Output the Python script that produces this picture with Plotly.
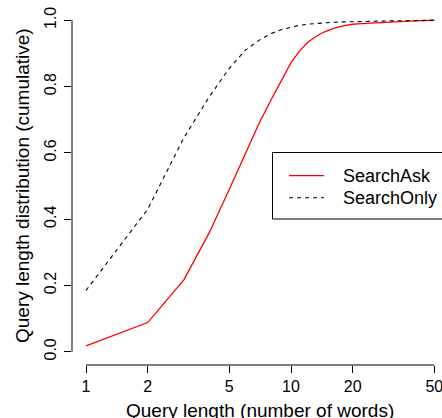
import plotly.graph_objects as go

# ---- data ----
query_length = [1, 2, 3, 4, 5, 6, 7, 8, 9, 10, 11, 12, 13, 14, 15, 16, 18, 20, 22, 25, 30, 40, 50]
search_ask = [0.018, 0.088, 0.217, 0.36, 0.49, 0.60, 0.69, 0.76, 0.82, 0.872, 0.907, 0.932, 0.948,
              0.960, 0.968, 0.975, 0.983, 0.988, 0.990, 0.992, 0.995, 0.998, 1.0]
search_only = [0.185, 0.43, 0.645, 0.77, 0.855, 0.91, 0.94, 0.96, 0.972, 0.98, 0.985, 0.988, 0.990,
               0.992, 0.993, 0.994, 0.995, 0.996, 0.997, 0.997, 0.998, 0.999, 1.0]
x_ticks = [1, 2, 5, 10, 20, 50]
y_ticks = [0.0, 0.2, 0.4, 0.6, 0.8, 1.0]
series_names = ["SearchAsk", "SearchOnly"]

FONT = "Liberation Sans, Arial, Helvetica, sans-serif"
W, H = 442, 418
ML, MR, MT, MB = 72, 0, 7, 53
PW, PH = W - ML - MR, H - MT - MB


def px_x(p):
    return (p - ML) / PW


def px_y(p):
    return (H - MB - p) / PH


fig = go.Figure()
fig.add_trace(go.Scatter(x=query_length, y=search_ask, mode="lines", name=series_names[0],
                         line=dict(color="#ff0000", width=1.3), showlegend=False))
fig.add_trace(go.Scatter(x=query_length, y=search_only, mode="lines", name=series_names[1],
                         line=dict(color="#000000", width=1.1, dash="4px,4px"), showlegend=False))

shapes = []
# R-style detached axis lines
shapes.append(dict(type="line", xref="x", yref="paper", x0=x_ticks[0], x1=x_ticks[-1], y0=0, y1=0,
                   line=dict(color="black", width=1)))
shapes.append(dict(type="line", xref="paper", yref="y", x0=0, x1=0, y0=y_ticks[0], y1=y_ticks[-1],
                   line=dict(color="black", width=1)))
# legend box
shapes.append(dict(type="rect", xref="paper", yref="paper", x0=px_x(272.5), x1=px_x(470),
                   y0=px_y(219), y1=px_y(152.5), line=dict(color="black", width=1), fillcolor="white",
                   layer="above"))
shapes.append(dict(type="line", xref="paper", yref="paper", x0=px_x(289), x1=px_x(324),
                   y0=px_y(175.7), y1=px_y(175.7), line=dict(color="#ff0000", width=1.3)))
shapes.append(dict(type="line", xref="paper", yref="paper", x0=px_x(289), x1=px_x(324),
                   y0=px_y(197.7), y1=px_y(197.7), line=dict(color="black", width=1.1, dash="4px,4px")))

annotations = [
    dict(text=series_names[0], xref="paper", yref="paper", x=px_x(341), y=px_y(175.5),
         xanchor="left", yanchor="middle", showarrow=False, font=dict(family=FONT, size=18, color="black")),
    dict(text=series_names[1], xref="paper", yref="paper", x=px_x(341), y=px_y(197.5),
         xanchor="left", yanchor="middle", showarrow=False, font=dict(family=FONT, size=18, color="black")),
    dict(text="Query length (number of words)", xref="paper", yref="paper", x=px_x(260), y=px_y(410),
         xanchor="center", yanchor="middle", showarrow=False, font=dict(family=FONT, size=19, color="black")),
    dict(text="Query length distribution (cumulative)", xref="paper", yref="paper", x=px_x(22),
         y=px_y(186), xanchor="center", yanchor="middle", textangle=-90, showarrow=False,
         font=dict(family=FONT, size=19, color="black")),
]

fig.update_layout(
    width=W, height=H,
    margin=dict(l=ML, r=MR, t=MT, b=MB, pad=0),
    paper_bgcolor="white", plot_bgcolor="white",
    shapes=shapes, annotations=annotations,
    xaxis=dict(type="log", range=[-14 / 205, 356 / 205], tickvals=x_ticks,
               ticktext=[str(v) for v in x_ticks], ticks="outside", ticklen=7, tickwidth=1,
               tickcolor="black", showgrid=False, zeroline=False, showline=False,
               ticklabeloverflow="allow",
               tickfont=dict(family=FONT, size=16, color="black")),
    yaxis=dict(range=[-0.04, 1.04], tickvals=y_ticks, ticktext=[f"{v:.1f}" for v in y_ticks],
               ticks="outside", ticklen=7, tickwidth=1, tickcolor="black", tickangle=-90,
               ticklabelstandoff=2,
               showgrid=False, zeroline=False, showline=False,
               tickfont=dict(family=FONT, size=16, color="black")),
    showlegend=False,
)

fig.write_html("out.html")
